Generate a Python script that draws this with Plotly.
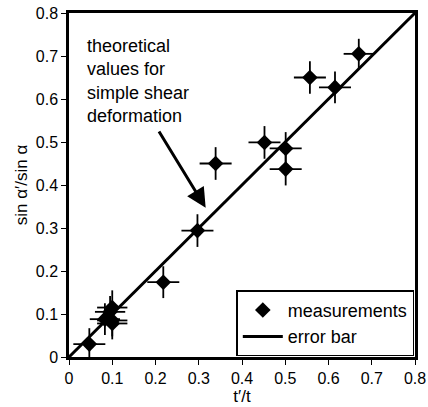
import plotly.graph_objects as go

# measurements
x_vals = [0.047, 0.083, 0.095, 0.100, 0.100, 0.100, 0.218, 0.297, 0.339, 0.452, 0.501, 0.501, 0.557, 0.615, 0.670]
y_vals = [0.030, 0.088, 0.105, 0.115, 0.085, 0.078, 0.174, 0.294, 0.450, 0.499, 0.485, 0.437, 0.650, 0.627, 0.705]
x_err = [0.037, 0.035, 0.035, 0.035, 0.035, 0.035, 0.037, 0.037, 0.037, 0.037, 0.037, 0.037, 0.037, 0.037, 0.035]
y_err = [0.037, 0.037, 0.037, 0.040, 0.037, 0.037, 0.037, 0.038, 0.038, 0.038, 0.038, 0.038, 0.038, 0.037, 0.035]

# theoretical line (simple shear)
theory_x = [0.0, 0.8]
theory_y = [0.0, 0.8]

x_ticks = [0, 0.1, 0.2, 0.3, 0.4, 0.5, 0.6, 0.7, 0.8]
y_ticks = [0, 0.1, 0.2, 0.3, 0.4, 0.5, 0.6, 0.7, 0.8]
x_ticklabels = ["0", "0.1", "0.2", "0.3", "0.4", "0.5", "0.6", "0.7", "0.8"]
y_ticklabels = ["0", "0.1", "0.2", "0.3", "0.4", "0.5", "0.6", "0.7", "0.8"]

FONT = "Liberation Sans, Arial, sans-serif"

fig = go.Figure()
fig.add_trace(go.Scatter(
    x=x_vals, y=y_vals, mode="markers", name="measurements",
    marker=dict(symbol="diamond", size=12, color="black"),
    error_x=dict(type="data", array=x_err, color="black", thickness=1.8, width=0),
    error_y=dict(type="data", array=y_err, color="black", thickness=1.8, width=0),
    cliponaxis=False,
))
fig.add_trace(go.Scatter(
    x=theory_x, y=theory_y, mode="lines", name="error bar",
    line=dict(color="black", width=3),
))

fig.add_annotation(
    x=0.316, y=0.347, ax=0.206, ay=0.528, xref="x", yref="y", axref="x", ayref="y",
    text="", showarrow=True, arrowhead=2, arrowsize=1.3, arrowwidth=3, arrowcolor="black",
)
fig.add_annotation(
    x=0.038, y=0.752, xref="x", yref="y", xanchor="left", yanchor="top",
    text="theoretical<br>values for<br>simple shear<br>deformation",
    showarrow=False, align="left", font=dict(family=FONT, size=18, color="black"),
)

fig.update_layout(
    width=428, height=407,
    margin=dict(l=69, r=13, t=13, b=50),
    paper_bgcolor="white", plot_bgcolor="white",
    font=dict(family=FONT, size=16, color="black"),
    showlegend=True,
    legend=dict(
        x=0.998, y=0.002, xanchor="right", yanchor="bottom",
        bordercolor="black", borderwidth=1.5, bgcolor="white",
        font=dict(family=FONT, size=18), tracegroupgap=0, itemwidth=40,
    ),
    xaxis=dict(
        range=[0, 0.8], tickvals=x_ticks, ticktext=x_ticklabels, automargin=False,
        showgrid=False, zeroline=False, showline=True, linecolor="black", linewidth=2.5,
        mirror=True, ticks="outside", ticklen=5, tickcolor="black",
        title=dict(text="t\u2032/t", font=dict(size=17), standoff=2),
    ),
    yaxis=dict(
        range=[0, 0.8], tickvals=y_ticks, ticktext=y_ticklabels, automargin=False,
        showgrid=False, zeroline=False, showline=True, linecolor="black", linewidth=2.5,
        mirror=True, ticks="outside", ticklen=5, tickcolor="black",
        title=dict(text="sin \u03b1\u2032/sin \u03b1", font=dict(size=17), standoff=4),
    ),
)

fig.write_html("out.html", config={"displayModeBar": False},
               post_script="document.body.style.margin='0px';")
